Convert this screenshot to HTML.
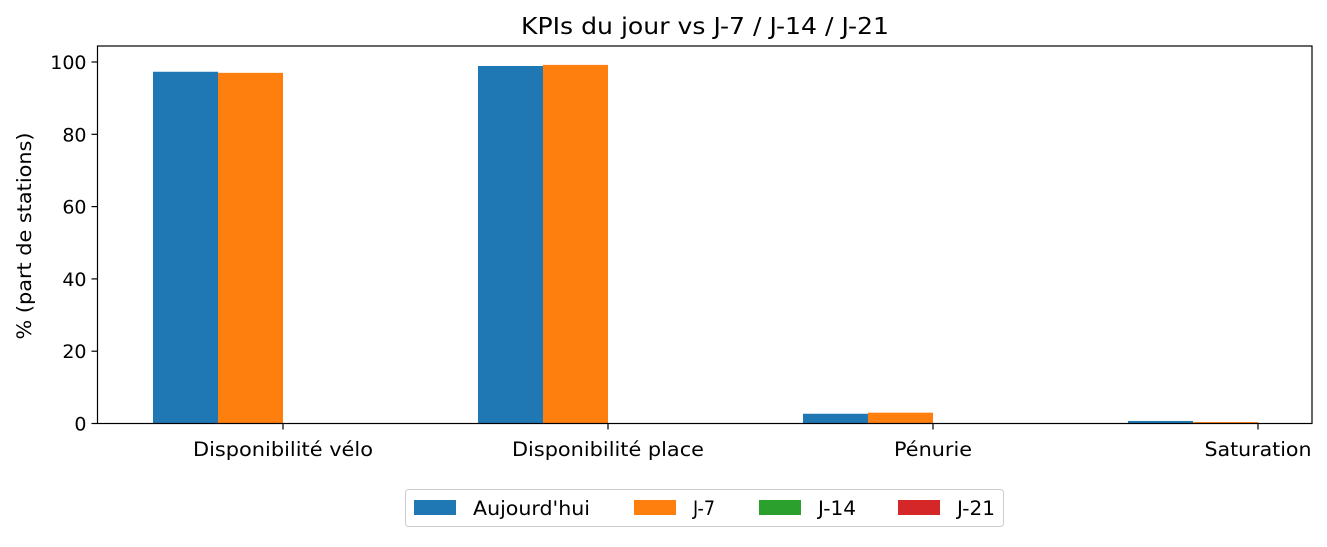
<!DOCTYPE html>
<html><head><meta charset="utf-8"><style>
body{margin:0;background:#fff;font-family:"Liberation Sans","DejaVu Sans",sans-serif;}
svg text{font-family:"DejaVu Sans","Liberation Sans",sans-serif;fill:#000;}
</style></head><body>
<svg id="chart" width="1327" height="542"></svg>
<script>
const categories = ["Disponibilité vélo","Disponibilité place","Pénurie","Saturation"];
const seriesNames = ["Aujourd'hui","J-7","J-14","J-21"];
const seriesToday = [97.3, 98.9, 2.7, 0.7];
const seriesJ7 = [97.0, 99.2, 3.0, 0.4];
const seriesJ14 = [0, 0, 0, 0];
const seriesJ21 = [0, 0, 0, 0];
const yTicks = [0,20,40,60,80,100];
const colors = ["#1f77b4","#ff7f0e","#2ca02c","#d62728"];

const svg = document.getElementById('chart');
const NS = "http://www.w3.org/2000/svg";
function mk(tag, attrs, parent){const e=document.createElementNS(NS,tag);for(const k in attrs)e.setAttribute(k,attrs[k]);(parent||svg).appendChild(e);return e;}
const L=97.5,R=1312,T=46,B=423.5;
const y = v => B - v*3.615;
const x = i => 283 + i*325;
const bw = 65;
const catLen=[180,192,78,107];
const legLen=[117,22,38,38];

const title = mk('text',{x:705,y:34,'text-anchor':'middle','font-size':23,textLength:368,lengthAdjust:'spacingAndGlyphs'});
title.textContent="KPIs du jour vs J-7 / J-14 / J-21";



const all=[seriesToday,seriesJ7,seriesJ14,seriesJ21];
all.forEach((s,si)=>{
  s.forEach((v,ci)=>{
    const r=mk('rect',{x:x(ci)-2*bw+si*bw,y:y(v),width:bw,height:B-y(v),fill:colors[si]});
    
    
  });
});

const frame=mk('rect',{x:L,y:T,width:R-L,height:B-T,fill:'none',stroke:'#000','stroke-width':1.2});



yTicks.forEach(t=>{
  mk('line',{x1:L-6,x2:L,y1:y(t),y2:y(t),stroke:'#000','stroke-width':1.2});
  const tx=mk('text',{x:L-11,y:y(t)+7,'text-anchor':'end','font-size':19});
  tx.textContent=t;
  
  
});
categories.forEach((c,i)=>{
  mk('line',{x1:x(i),x2:x(i),y1:B,y2:B+6,stroke:'#000','stroke-width':1.2});
  const tx=mk('text',{x:x(i),y:456,'text-anchor':'middle','font-size':19.5,textLength:catLen[i],lengthAdjust:'spacingAndGlyphs'});
  tx.textContent=c;
  
  
});
const yl=mk('text',{x:0,y:0,'text-anchor':'middle','font-size':19.5,textLength:207,lengthAdjust:'spacingAndGlyphs',transform:'translate(31,236) rotate(-90)'});
yl.textContent="% (part de stations)";



const lg=mk('g',{});


mk('rect',{x:405.5,y:489.5,width:598,height:37,rx:3,fill:'#fff',stroke:'#ccc'},lg);
const lx=[414,634,759,898];
seriesNames.forEach((n,i)=>{
  mk('rect',{x:lx[i],y:500,width:42,height:15,fill:colors[i]},lg);
  const t=mk('text',{x:lx[i]+59,y:515,'font-size':19.5,textLength:legLen[i],lengthAdjust:'spacingAndGlyphs'},lg);
  t.textContent=n;
  
  
});
</script>
</body></html>
